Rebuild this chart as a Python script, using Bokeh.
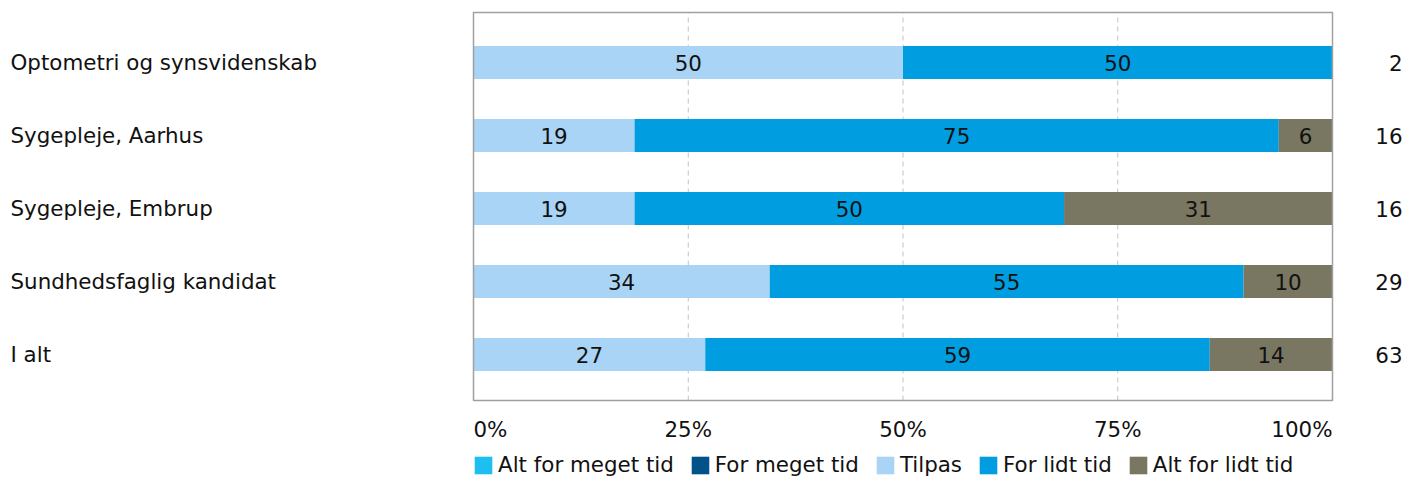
from bokeh.plotting import figure
from bokeh.models import ColumnDataSource, Range1d
from bokeh.core.properties import value
from bokeh.embed import file_html
from bokeh.resources import INLINE

# ---------------- data ----------------
categories = ["Optometri og synsvidenskab", "Sygepleje, Aarhus", "Sygepleje, Embrup",
              "Sundhedsfaglig kandidat", "I alt"]
series_names = ["Alt for meget tid", "For meget tid", "Tilpas", "For lidt tid", "Alt for lidt tid"]
alt_for_meget = [0, 0, 0, 0, 0]
for_meget = [0, 0, 0, 0, 0]
tilpas = [50, 18.75, 18.75, 34.48, 26.98]
for_lidt = [50, 75, 50, 55.17, 58.73]
alt_for_lidt = [0, 6.25, 31.25, 10.34, 14.29]
n_values = ["2", "16", "16", "29", "63"]
tick_values = [0, 25, 50, 75, 100]
tick_labels = ["0%", "25%", "50%", "75%", "100%"]

# ---------------- style / layout ----------------
colors = ["#1DBFF0", "#005288", "#A9D4F5", "#009EE0", "#797661"]
FONT = "DejaVu Sans"
FS = "21.4px"
TXT = "#111111"

W, H = 1406, 477
PL, PR = 473, 1332          # plot box left/right (px)
PT, PB = 12, 400            # plot box top/bottom (px)
ROW0, STEP = 62, 73         # first row centre (px), row spacing (px)
kx = (PR - PL) / 100.0      # px per percent
n = len(categories)
ytop_val = n - 1            # data value of the first row
x_start = -PL / kx
x_end = 100 + (W - PR) / kx
y_end = ytop_val + ROW0 / STEP
y_start = ytop_val - (H - ROW0) / STEP
y_lo = ytop_val - (PB - ROW0) / STEP
y_hi = ytop_val + (ROW0 - PT) / STEP


def py(px):
    return ytop_val - (px - ROW0) / STEP


def pxx(px):
    return (px - PL) / kx


ys = [n - 1 - i for i in range(n)]
keys = ["s0", "s1", "s2", "s3", "s4"]
all_series = [alt_for_meget, for_meget, tilpas, for_lidt, alt_for_lidt]
data = dict(y=ys, cat=categories, n=n_values)
for k, arr in zip(keys, all_series):
    data[k] = arr
source = ColumnDataSource(data)

p = figure(width=W, height=H, output_backend="svg", toolbar_location=None,
           x_range=Range1d(x_start, x_end), y_range=Range1d(y_start, y_end),
           x_axis_location=None, y_axis_location=None,
           min_border_left=0, min_border_right=0, min_border_top=0, min_border_bottom=0)
p.outline_line_color = None
p.background_fill_color = "white"
p.border_fill_color = "white"
p.grid.visible = False

# dashed vertical grid lines at the inner ticks
inner = tick_values[1:-1]
p.segment(x0=inner, y0=[y_lo] * len(inner), x1=inner, y1=[y_hi] * len(inner),
          line_color="#C2C2C2", line_dash="5 4", line_width=1)

# stacked bars
p.hbar_stack(keys, y="y", height=33 / STEP, color=colors, line_color=None,
             source=source, legend_label=series_names)

# plot box
p.quad(left=[tick_values[0]], right=[tick_values[-1]], bottom=[y_lo], top=[y_hi],
       fill_color=None, line_color="#A0A0A0", line_width=1.5)

# value labels inside the bars
lx, ly, lt = [], [], []
for i in range(n):
    left = 0.0
    for arr in all_series:
        v = arr[i]
        if v > 0:
            lx.append(left + v / 2.0)
            ly.append(ys[i])
            lt.append(str(int(round(v))))
        left += v
p.text(x=lx, y=ly, text=lt, text_align="center", text_baseline="middle",
       text_font=value(FONT), text_font_size=FS, text_color=TXT)

# category labels (left) and counts (right)
p.text(x=pxx(10), y="y", text="cat", source=source, text_align="left",
       text_baseline="middle", text_font=value(FONT), text_font_size=FS, text_color=TXT)
p.text(x=pxx(1402), y="y", text="n", source=source, text_align="right",
       text_baseline="middle", text_font=value(FONT), text_font_size=FS, text_color=TXT)

# percent tick labels under the plot box
ty = py(429)
p.text(x=tick_values[:1], y=[ty], text=tick_labels[:1], text_align="left",
       text_baseline="middle", text_font=value(FONT), text_font_size=FS, text_color=TXT)
p.text(x=tick_values[1:-1], y=[ty] * 3, text=tick_labels[1:-1], text_align="center",
       text_baseline="middle", text_font=value(FONT), text_font_size=FS, text_color=TXT)
p.text(x=tick_values[-1:], y=[ty], text=tick_labels[-1:], text_align="right",
       text_baseline="middle", text_font=value(FONT), text_font_size=FS, text_color=TXT)

# legend (bar swatches are drawn at 80% of the glyph box)
G = 22
lg = p.legend[0]
lg.orientation = "horizontal"
lg.location = (PL - 1, 0)
lg.padding = 0
lg.margin = 0
lg.spacing = 15
lg.glyph_width = G
lg.glyph_height = G
lg.label_standoff = 4
lg.label_text_font = FONT
lg.label_text_font_size = FS
lg.label_text_color = TXT
lg.border_line_color = None
lg.background_fill_alpha = 0

open("out.html", "w").write(file_html(p, INLINE))
